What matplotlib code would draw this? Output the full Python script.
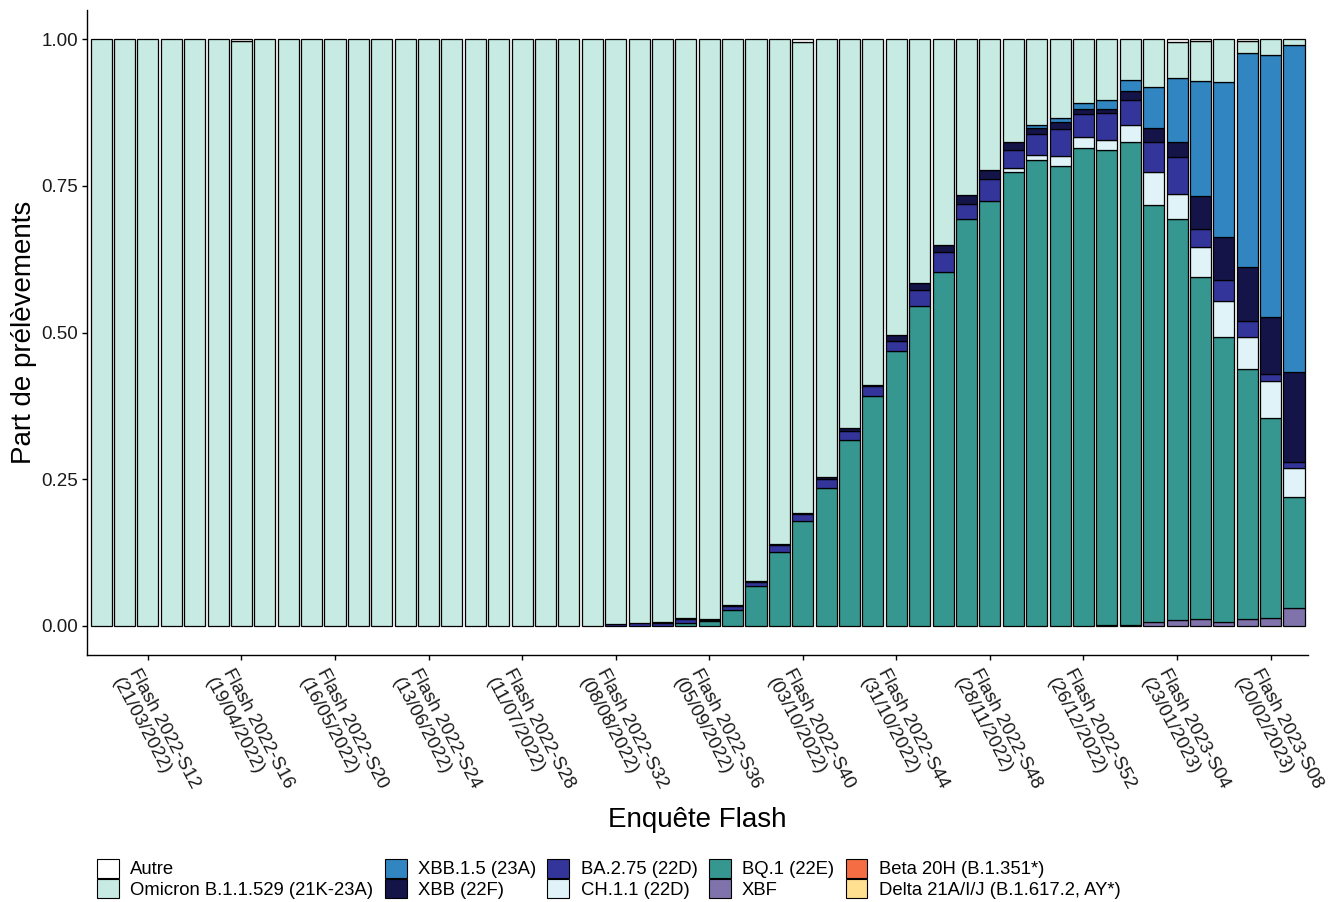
import matplotlib
matplotlib.use("Agg")
import matplotlib.pyplot as plt
import matplotlib.transforms as mtransforms
from matplotlib.patches import Patch
import numpy as np

plt.rcParams['font.family'] = ['Liberation Sans', 'DejaVu Sans']

# Weekly Flash surveys, 2022-S10 .. 2023-S09
weeks = [
    "2022-S10", "2022-S11", "2022-S12", "2022-S13", "2022-S14", "2022-S15", "2022-S16",
    "2022-S17", "2022-S18", "2022-S19", "2022-S20", "2022-S21", "2022-S22", "2022-S23",
    "2022-S24", "2022-S25", "2022-S26", "2022-S27", "2022-S28", "2022-S29", "2022-S30",
    "2022-S31", "2022-S32", "2022-S33", "2022-S34", "2022-S35", "2022-S36", "2022-S37",
    "2022-S38", "2022-S39", "2022-S40", "2022-S41", "2022-S42", "2022-S43", "2022-S44",
    "2022-S45", "2022-S46", "2022-S47", "2022-S48", "2022-S49", "2022-S50", "2022-S51",
    "2022-S52", "2023-S01", "2023-S02", "2023-S03", "2023-S04", "2023-S05", "2023-S06",
    "2023-S07", "2023-S08", "2023-S09",
]

tick_weeks = ["2022-S12", "2022-S16", "2022-S20", "2022-S24", "2022-S28", "2022-S32",
              "2022-S36", "2022-S40", "2022-S44", "2022-S48", "2022-S52", "2023-S04",
              "2023-S08"]
tick_dates = ["21/03/2022", "19/04/2022", "16/05/2022", "13/06/2022", "11/07/2022",
              "08/08/2022", "05/09/2022", "03/10/2022", "31/10/2022", "28/11/2022",
              "26/12/2022", "23/01/2023", "20/02/2023"]

# Share of samples per lineage (one value per week)
autre = [0, 0, 0, 0, 0, 0, 0.002, 0, 0, 0, 0, 0, 0, 0, 0, 0, 0, 0, 0, 0, 0, 0,
         0, 0, 0, 0, 0, 0, 0, 0, 0.005, 0, 0, 0, 0, 0, 0, 0, 0, 0, 0, 0,
         0, 0, 0, 0, 0.004, 0.002, 0, 0.002, 0, 0]
omicron = [1, 1, 1, 1, 1, 1, 0.998, 1, 1, 1, 1, 1, 1, 1, 1, 1, 1, 1, 1, 1, 1, 1,
           0.997, 0.996, 0.994, 0.987, 0.989, 0.964, 0.923, 0.860, 0.802, 0.747,
           0.663, 0.589, 0.504, 0.415, 0.351, 0.265, 0.223, 0.175, 0.146, 0.135,
           0.109, 0.103, 0.069, 0.082, 0.062, 0.069, 0.073, 0.022, 0.026, 0.009]
xbb15 = [0] * 40 + [0.005, 0.006, 0.009, 0.015, 0.019, 0.070, 0.109, 0.197,
                    0.264, 0.365, 0.448, 0.558]
xbb = [0] * 24 + [0.002, 0.002, 0.002, 0.002, 0.002, 0.002, 0.003, 0.003, 0.005,
                  0.002, 0.011, 0.012, 0.011, 0.015, 0.016, 0.013, 0.011, 0.012,
                  0.009, 0.007, 0.016, 0.023, 0.026, 0.055, 0.073, 0.091, 0.096,
                  0.154]
ba275 = [0] * 22 + [0.003, 0.004, 0.004, 0.007, 0.001, 0.007, 0.008, 0.012, 0.011,
                    0.015, 0.016, 0.018, 0.017, 0.028, 0.034, 0.027, 0.037, 0.032,
                    0.036, 0.046, 0.040, 0.047, 0.042, 0.051, 0.063, 0.031, 0.036,
                    0.028, 0.013, 0.010]
ch11 = [0] * 39 + [0.006, 0.007, 0.017, 0.018, 0.017, 0.029, 0.056, 0.043, 0.051,
                   0.062, 0.054, 0.063, 0.049]
bq1 = [0] * 25 + [0.004, 0.008, 0.027, 0.067, 0.126, 0.179, 0.235, 0.316, 0.391,
                  0.468, 0.545, 0.604, 0.693, 0.724, 0.774, 0.795, 0.784, 0.815,
                  0.810, 0.823, 0.711, 0.684, 0.583, 0.486, 0.427, 0.341, 0.190]
xbf = [0] * 43 + [0.001, 0.002, 0.007, 0.009, 0.012, 0.006, 0.011, 0.013, 0.030]
beta = [0] * 52
delta = [0] * 52

labels = ["Autre", "Omicron B.1.1.529 (21K-23A)", "XBB.1.5 (23A)", "XBB (22F)",
          "BA.2.75 (22D)", "CH.1.1 (22D)", "BQ.1 (22E)", "XBF",
          "Beta 20H (B.1.351*)", "Delta 21A/I/J (B.1.617.2, AY*)"]
series = [autre, omicron, xbb15, xbb, ba275, ch11, bq1, xbf, beta, delta]
colors = ["#ffffff", "#c7eae3", "#3186c2", "#141448", "#33359a", "#e0f3f8",
          "#35978f", "#8073ac", "#f46d43", "#fee090"]

fig = plt.figure(figsize=(13.35, 9.02), dpi=100)
ax = fig.add_axes([0.0652, 0.2738, 0.9146, 0.7151])

x = np.arange(len(weeks))
bottom = np.zeros(len(weeks))
# stack from the last level (bottom) to the first (top)
for vals, col in zip(reversed(series), reversed(colors)):
    v = np.asarray(vals, dtype=float)
    m = v > 0
    if m.any():
        ax.bar(x[m], v[m], bottom=bottom[m], width=0.9, color=col,
               edgecolor="black", linewidth=0.9)
    bottom += v

ax.set_xlim(-0.6, len(weeks) - 0.4)
ax.set_ylim(-0.05, 1.05)

for s in ("top", "right"):
    ax.spines[s].set_visible(False)
for s in ("left", "bottom"):
    ax.spines[s].set_linewidth(1.0)

ax.set_yticks([0, 0.25, 0.5, 0.75, 1.0])
ax.set_yticklabels(["0.00", "0.25", "0.50", "0.75", "1.00"])
ax.tick_params(axis="y", length=3.5, width=1.0, labelsize=13.5, pad=3,
               labelcolor="#1a1a1a")

tick_pos = [weeks.index(w) for w in tick_weeks]
ax.set_xticks(tick_pos)
ax.set_xticklabels([f"Flash {w}\n({d})" for w, d in zip(tick_weeks, tick_dates)],
                   rotation=-62, rotation_mode="anchor", ha="left", va="top")
ax.tick_params(axis="x", length=3.5, width=1.0, labelsize=13.5, pad=4,
               labelcolor="#1a1a1a")
shift = mtransforms.ScaledTranslation(-7 / 100, 0, fig.dpi_scale_trans)
for lab in ax.get_xticklabels():
    lab.set_transform(lab.get_transform() + shift)

ax.set_ylabel("Part de prélèvements", fontsize=20)
ax.yaxis.set_label_coords(-0.052, 0.5)
ax.yaxis.label.set_va("center")
ax.set_xlabel("Enquête Flash", fontsize=20)
ax.xaxis.set_label_coords(0.5, -0.256)
ax.xaxis.label.set_va("center")

handles = [Patch(facecolor=c, edgecolor="black", linewidth=0.8) for c in colors]
fig.legend(handles, labels, ncol=5, loc="upper left",
           bbox_to_anchor=(0.0727, 0.048), frameon=False, fontsize=13.3,
           handlelength=1.19, handleheight=1.19, labelspacing=0.05,
           handletextpad=0.6, columnspacing=0.62, borderpad=0, borderaxespad=0)

fig.savefig("out.png", dpi=100, facecolor="white")
